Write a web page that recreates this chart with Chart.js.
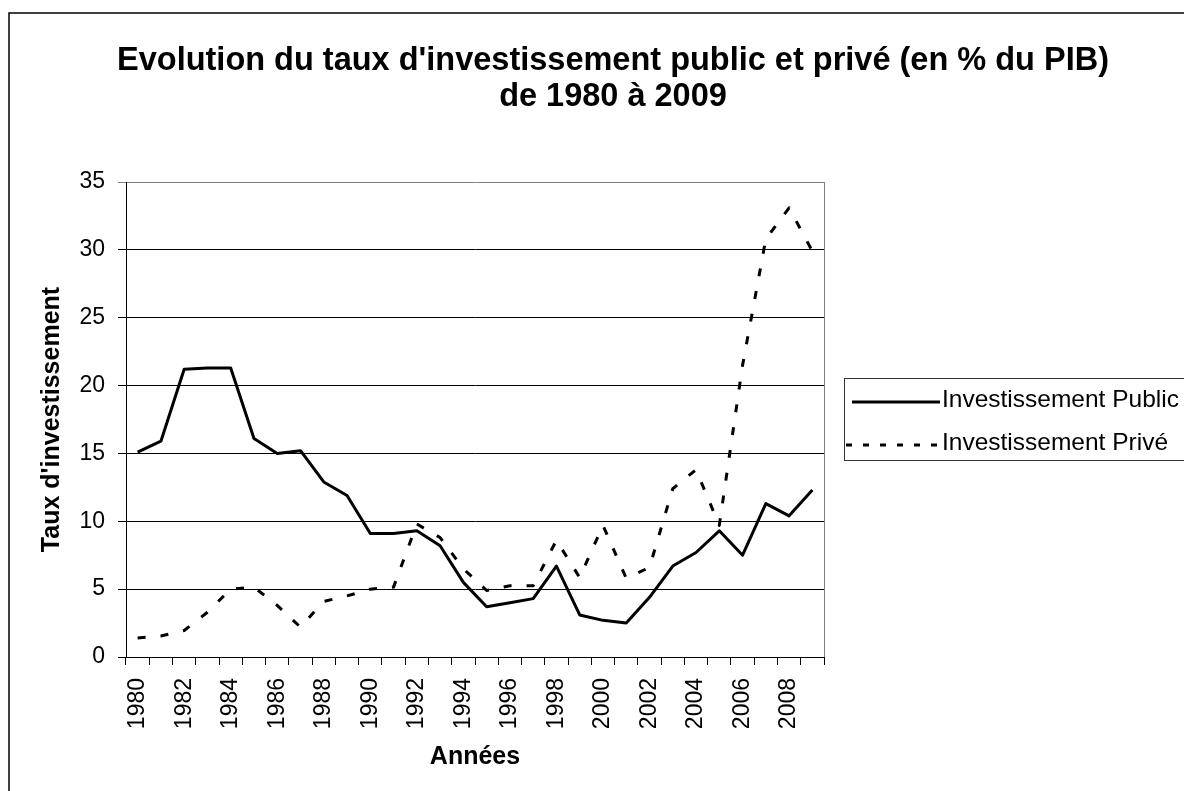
<!DOCTYPE html>
<html>
<head>
<meta charset="utf-8">
<script src="https://cdn.jsdelivr.net/npm/chart.js@4.4.1/dist/chart.umd.min.js"></script>
<style>
  html, body { margin: 0; padding: 0; background: #fff; }
</style>
</head>
<body>
<canvas id="chart" width="1184" height="791"></canvas>
<script>
// Data
const years = ['1980', '1981', '1982', '1983', '1984', '1985', '1986', '1987', '1988', '1989',
               '1990', '1991', '1992', '1993', '1994', '1995', '1996', '1997', '1998', '1999',
               '2000', '2001', '2002', '2003', '2004', '2005', '2006', '2007', '2008', '2009'];
const investPublic = [15.1, 15.9, 21.2, 21.3, 21.3, 16.1, 15.0, 15.2, 12.9, 11.9,
                      9.1, 9.1, 9.3, 8.2, 5.5, 3.7, 4.0, 4.3, 6.7, 3.1,
                      2.7, 2.5, 4.4, 6.7, 7.7, 9.3, 7.5, 11.3, 10.4, 12.3];
const investPrive = [1.4, 1.55, 1.95, 3.3, 5.0, 5.15, 3.8, 2.2, 4.1, 4.5,
                     5.0, 5.15, 9.8, 8.8, 6.5, 4.9, 5.25, 5.25, 8.6, 5.85,
                     9.7, 5.8, 6.6, 12.4, 13.8, 9.7, 21.5, 30.8, 33.1, 29.9];
const xTickLabels = ['1980', '1982', '1984', '1986', '1988', '1990', '1992', '1994',
                     '1996', '1998', '2000', '2002', '2004', '2006', '2008'];
const titleLines = ["Evolution du taux d'investissement public et privé (en % du PIB)",
                    'de 1980 à 2009'];

const FONT = '"Liberation Sans", Arial, Helvetica, sans-serif';

// page frame, title, plot border and legend
const decorations = {
    id: 'decorations',
    beforeDraw(chart) {
        const ctx = chart.ctx;
        ctx.save();
        ctx.fillStyle = '#fff';
        ctx.fillRect(0, 0, chart.width, chart.height);
        ctx.strokeStyle = '#000';
        ctx.lineWidth = 1.5;
        ctx.strokeRect(9, 13, 1400, 1000);
        ctx.fillStyle = '#000';
        ctx.font = 'bold 32.5px ' + FONT;
        ctx.textAlign = 'center';
        ctx.textBaseline = 'middle';
        titleLines.forEach(function (t, i) {
            ctx.fillText(t, 613, 61 + i * 36);
        });
        ctx.restore();
    },
    beforeDatasetsDraw(chart) {
        const ctx = chart.ctx;
        const a = chart.chartArea;
        ctx.save();
        ctx.strokeStyle = '#808080';
        ctx.lineWidth = 1;
        ctx.beginPath();
        ctx.moveTo(Math.round(a.right) + 0.5, a.top);
        ctx.lineTo(Math.round(a.right) + 0.5, a.bottom);
        ctx.stroke();
        ctx.restore();
    },
    afterDraw(chart) {
        const ctx = chart.ctx;
        ctx.save();
        ctx.strokeStyle = '#333';
        ctx.lineWidth = 1;
        ctx.strokeRect(844.5, 378.5, 400, 82);
        ctx.font = '24.5px ' + FONT;
        ctx.fillStyle = '#000';
        ctx.textAlign = 'left';
        ctx.textBaseline = 'alphabetic';
        chart.data.datasets.forEach(function (ds, i) {
            const y = 402 + i * 43;
            ctx.strokeStyle = ds.borderColor;
            ctx.lineWidth = ds.borderWidth;
            ctx.setLineDash(i === 0 ? [] : [6, 11]);
            ctx.beginPath();
            ctx.moveTo(i === 0 ? 852 : 846, y);
            ctx.lineTo(940, y);
            ctx.stroke();
            ctx.fillText(ds.label, 942, y + 5);
        });
        ctx.restore();
    }
};

const ctx = document.getElementById('chart').getContext('2d');
const chart = new Chart(ctx, {
    type: 'line',
    data: {
        labels: years,
        datasets: [{
            label: 'Investissement Public',
            data: investPublic,
            borderColor: '#000',
            borderWidth: 3,
            borderJoinStyle: 'round',
            pointRadius: 0,
            tension: 0
        }, {
            label: 'Investissement Privé',
            data: investPrive,
            borderColor: '#000',
            borderWidth: 3,
            borderDash: [8, 15],
            borderJoinStyle: 'round',
            pointRadius: 0,
            tension: 0
        }]
    },
    options: {
        responsive: false,
        animation: false,
        devicePixelRatio: 1,
        layout: { padding: { left: 0, top: 182, right: 360, bottom: 0 } },
        plugins: {
            legend: { display: false },
            tooltip: { enabled: false }
        },
        scales: {
            x: {
                type: 'category',
                offset: true,
                grid: { offset: true, drawOnChartArea: false, drawTicks: true, tickLength: 8, color: '#000' },
                border: { display: true, color: '#000', width: 1 },
                ticks: {
                    autoSkip: false,
                    minRotation: 90,
                    maxRotation: 90,
                    padding: 13,
                    color: '#000',
                    font: { family: FONT, size: 23 },
                    callback: function (value, index) {
                        const label = years[index];
                        return xTickLabels.includes(label) ? label : '';
                    }
                },
                title: {
                    display: true,
                    text: 'Années',
                    color: '#000',
                    font: { family: FONT, size: 25, weight: 'bold' },
                    padding: { top: 0, bottom: 19 }
                },
                afterFit: function (scale) { scale.height = 134; }
            },
            y: {
                min: 0,
                max: 35,
                grid: {
                    color: function (c) { return c.tick && c.tick.value === 35 ? '#808080' : '#000'; },
                    lineWidth: 1,
                    tickLength: 8
                },
                border: { display: true, color: '#000', width: 1 },
                ticks: {
                    stepSize: 5,
                    padding: 13,
                    color: '#000',
                    font: { family: FONT, size: 23 }
                },
                title: {
                    display: true,
                    text: "Taux d'investissement",
                    color: '#000',
                    font: { family: FONT, size: 25, weight: 'bold' },
                    padding: { top: 37, bottom: 0 }
                },
                afterFit: function (scale) { scale.width = 126; }
            }
        }
    },
    plugins: [decorations]
});
</script>
</body>
</html>
